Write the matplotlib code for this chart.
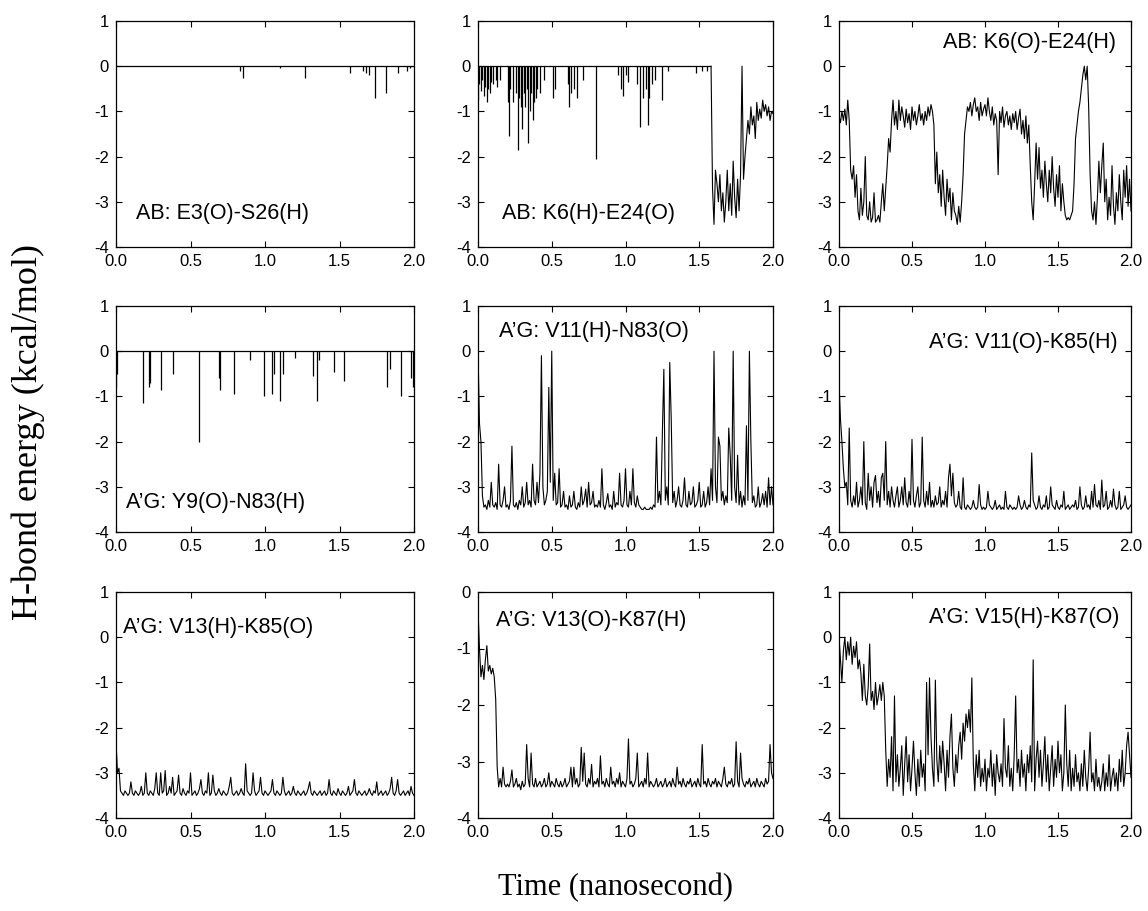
import numpy as np
import matplotlib
matplotlib.use('Agg')
import matplotlib.pyplot as plt

plt.rcParams['font.family'] = ['Liberation Sans', 'DejaVu Sans']
plt.rcParams['axes.unicode_minus'] = False

# common axis settings
time_ticks = [0.0, 0.5, 1.0, 1.5, 2.0]
time_range = [0.0, 2.0]

# ---- AB: E3(O)-S26(H)  (rare short breaks of a zero baseline)
e3o_s26h_t = [0.83, 0.85, 1.10, 1.27, 1.57, 1.66, 1.68, 1.70, 1.74, 1.81, 1.89, 1.95, 1.97]
e3o_s26h_e = [-0.10, -0.25, -0.05, -0.25, -0.15, -0.10, -0.15, -0.20, -0.70, -0.60, -0.15, -0.10, -0.05]

# ---- AB: K6(H)-E24(O)  (spikes until 1.58 ns, then a formed bond)
k6h_e24o_t = [0.00, 0.01, 0.02, 0.03, 0.04, 0.05, 0.06, 0.07, 0.08, 0.09, 0.10,
              0.12, 0.13, 0.15, 0.20, 0.21, 0.22, 0.24, 0.26, 0.27, 0.28, 0.29,
              0.30, 0.31, 0.32, 0.33, 0.34, 0.35, 0.36, 0.37, 0.38, 0.39, 0.40,
              0.42, 0.45, 0.51, 0.52, 0.61, 0.62, 0.63, 0.65, 0.67, 0.71, 0.80,
              0.95, 0.97, 0.98, 1.00, 1.02, 1.08, 1.10, 1.12, 1.14, 1.15, 1.16,
              1.18, 1.20, 1.25, 1.29, 1.48, 1.52, 1.55]
k6h_e24o_e = [-0.75, -0.4, -0.55, -0.3, -0.65, -0.45, -0.8, -0.5, -0.6, -0.35, -0.4,
              -0.3, -0.45, -0.3, -0.8, -1.55, -0.5, -0.8, -0.6, -1.85, -0.7, -0.9,
              -1.4, -0.6, -0.9, -0.5, -1.7, -1.0, -0.6, -1.2, -0.8, -0.7, -0.5,
              -0.6, -0.3, -0.7, -0.5, -0.4, -0.9, -0.6, -0.5, -0.7, -0.3, -2.05,
              -0.2, -0.5, -0.65, -0.2, -0.35, -0.4, -1.35, -0.7, -0.5, -1.3, -0.7,
              -0.4, -0.3, -0.75, -0.1, -0.15, -0.1, -0.1]
k6h_e24o_break = 1.58
k6h_e24o_tail = [0.0, -2.7, -3.5, -2.3, -2.6, -3.0, -2.4, -3.2, -2.8, -3.45,
                 -3.0, -2.3, -3.2, -2.6, -3.3, -2.1, -2.9, -3.35, -2.5, -3.2,
                 -2.4, 0.0, -2.5, -2.0, -1.6, -1.2, -1.5, -0.9, -1.3, -1.1,
                 -1.6, -0.8, -1.2, -0.95, -1.15, -0.75, -1.0, -0.85, -1.1, -0.9,
                 -1.2, -1.0, -1.05]

# ---- AB: K6(O)-E24(H)  (0.01 ns sampling)
k6o_e24h = [
    -1.1, -1.25, -1.0, -1.2, -0.95, -1.3, -0.75, -1.2, -2.3, -2.5, -2.2, -2.9, -2.4, -3.2, -3.4, -2.7, -3.3, -3.0, -2.0, -3.3,
    -3.4, -3.0, -3.45, -3.35, -2.8, -3.45, -3.4, -3.3, -3.45, -3.0, -2.6, -3.2, -2.7, -2.2, -1.6, -1.9, -1.2, -0.75, -1.3, -1.0,
    -1.4, -0.75, -1.2, -0.9, -1.1, -1.35, -0.95, -1.25, -1.05, -1.4, -0.9, -1.2, -1.0, -1.3, -1.1, -0.85, -1.2, -1.05, -1.3, -1.0,
    -1.2, -0.9, -1.1, -0.85, -1.0, -1.3, -2.6, -1.9, -2.8, -2.4, -3.1, -2.3, -2.9, -3.3, -2.5, -3.0, -2.7, -3.4, -2.8, -3.2,
    -3.3, -3.5, -3.1, -3.45, -3.0, -2.4, -1.5, -1.2, -0.9, -1.0, -0.8, -1.1, -0.85, -0.7, -1.0, -0.9, -1.2, -0.8, -1.1, -0.95,
    -0.85, -1.1, -0.7, -1.0, -1.2, -0.9, -1.3, -1.05, -1.2, -2.4, -1.0, -1.25, -0.9, -1.35, -1.1, -1.0, -1.3, -1.1, -1.4, -1.05,
    -1.25, -1.0, -1.4, -1.15, -0.95, -1.5, -1.2, -1.6, -1.1, -1.7, -1.3, -2.2, -3.0, -3.4, -2.6, -1.7, -2.5, -1.8, -2.7, -2.3,
    -2.9, -2.1, -2.6, -3.0, -2.3, -2.8, -2.0, -2.7, -3.1, -2.4, -2.9, -2.2, -3.2, -2.6, -3.0, -3.3, -3.4, -3.35, -3.4, -3.3,
    -3.2, -2.6, -1.6, -1.3, -1.0, -0.8, -0.5, -0.2, 0.0, -0.3, 0.0, -0.9, -2.4, -3.2, -3.4, -3.0, -3.5, -2.9, -2.1, -2.8,
    -2.2, -1.7, -3.0, -2.5, -3.4, -2.9, -3.3, -2.2, -3.1, -3.5, -2.8, -3.2, -2.4, -3.0, -3.4, -2.3, -2.9, -2.2, -3.1, -2.5,
    -3.2]

# ---- A'G: Y9(O)-N83(H)
y9o_n83h_t = [0.00, 0.01, 0.18, 0.22, 0.23, 0.30, 0.38, 0.56, 0.69, 0.70,
              0.79, 0.90, 0.99, 1.05, 1.06, 1.10, 1.12, 1.20, 1.32, 1.35,
              1.36, 1.46, 1.53, 1.82, 1.84, 1.91, 1.98, 1.99]
y9o_n83h_e = [-0.8, -0.5, -1.15, -0.8, -0.7, -0.85, -0.5, -2.0, -0.6, -0.85,
              -0.95, -0.2, -1.0, -0.95, -0.5, -1.1, -0.5, -0.15, -0.55, -1.1,
              -0.2, -0.45, -0.65, -0.8, -0.4, -1.0, -0.6, -0.8]

# ---- A'G: V11(H)-N83(O)
v11h_n83o = [
    0.0, -1.6, -2.0, -3.2, -3.45, -3.4, -3.5, -3.3, -3.45, -2.9, -3.4, -3.45, -3.35, -3.5, -2.5, -3.4, -3.45, -3.3, -3.0, -3.45,
    -3.4, -3.5, -3.3, -2.1, -3.4, -3.45, -3.35, -3.5, -3.3, -3.4, -3.0, -3.45, -3.35, -2.9, -3.4, -3.3, -3.45, -2.5, -3.3, -3.4,
    -2.9, -3.35, -2.7, -0.1, -3.0, -3.4, -3.3, -3.1, -0.8, -2.9, 0.0, -3.3, -2.7, -3.4, -3.35, -2.6, -3.45, -3.4, -3.1, -3.45,
    -3.4, -3.5, -3.2, -3.45, -3.4, -3.1, -3.45, -3.5, -3.35, -3.45, -3.0, -3.4, -3.3, -3.05, -3.45, -2.9, -3.4, -3.35, -3.1, -3.45,
    -3.4, -3.45, -3.3, -3.45, -2.6, -3.4, -3.5, -3.35, -3.15, -3.45, -3.4, -3.5, -3.1, -3.45, -3.35, -3.4, -2.7, -3.4, -3.45, -3.3,
    -2.6, -3.4, -3.45, -3.1, -3.4, -2.6, -3.35, -3.45, -3.2, -3.4, -3.45, -3.5, -3.5, -3.45, -3.5, -3.5, -3.5, -3.45, -3.5, -3.4,
    -3.45, -1.9, -3.35, -3.1, -3.4, -1.8, -0.4, -3.3, -3.0, -3.4, -0.25, -1.5, -3.35, -3.1, -3.45, -3.3, -3.0, -3.4, -3.45, -3.3,
    -2.8, -3.4, -3.45, -3.1, -3.4, -3.35, -3.0, -3.45, -3.4, -3.3, -2.9, -3.45, -3.4, -3.1, -3.45, -3.35, -3.0, -3.4, -2.6, -3.3,
    0.0, -3.0, -3.35, -1.9, -2.1, -3.3, -3.1, -3.4, -3.2, -3.35, -1.7, -2.3, -3.3, 0.0, -3.0, -3.35, -2.3, -3.4, -3.1, -3.45,
    -3.2, -3.4, -1.65, -3.3, 0.0, -2.0, -3.35, -3.2, -3.45, -3.4, -3.0, -3.45, -3.35, -3.15, -3.4, -3.1, -3.45, -2.8, -3.4, -3.0,
    -3.4]

# ---- A'G: V11(O)-K85(H)
v11o_k85h = [
    -0.7, -1.5, -2.0, -2.6, -3.0, -2.9, -3.4, -1.7, -3.3, -3.45, -3.2, -3.4, -2.9, -3.45, -3.3, -3.0, -3.4, -2.0, -3.35, -3.5,
    -2.7, -3.3, -3.0, -3.45, -2.9, -2.75, -3.35, -3.1, -3.45, -2.8, -2.7, -3.3, -2.0, -3.4, -3.1, -3.45, -3.0, -3.3, -3.45, -3.2,
    -3.0, -3.45, -3.3, -3.0, -3.4, -2.8, -3.35, -3.45, -3.1, -3.4, -1.95, -3.3, -3.45, -3.2, -3.0, -3.45, -3.35, -1.9, -3.3, -3.45,
    -3.1, -3.4, -2.9, -3.45, -3.3, -3.45, -3.2, -3.4, -3.35, -3.0, -3.45, -3.3, -3.4, -3.1, -3.45, -2.8, -2.5, -3.2, -2.7, -3.35,
    -3.45, -3.4, -3.1, -3.45, -3.5, -2.8, -3.45, -3.5, -3.4, -3.45, -3.5, -3.45, -3.3, -3.45, -3.5, -3.45, -2.95, -3.4, -3.5, -3.45,
    -3.5, -3.45, -3.1, -3.4, -3.45, -3.5, -3.45, -3.3, -3.5, -3.45, -3.4, -3.5, -3.45, -3.5, -3.1, -3.45, -3.5, -3.4, -3.45, -3.5,
    -3.45, -3.5, -3.45, -3.2, -3.4, -3.5, -3.45, -3.3, -3.45, -3.5, -3.4, -3.45, -2.25, -3.3, -3.4, -3.5, -3.45, -3.2, -3.45, -3.5,
    -3.4, -3.45, -3.2, -3.5, -3.45, -3.0, -3.4, -3.45, -3.5, -3.3, -3.45, -3.5, -3.4, -3.45, -3.1, -3.5, -3.45, -3.4, -3.5, -3.45,
    -3.4, -3.45, -3.3, -3.5, -3.45, -3.0, -3.4, -3.5, -3.45, -3.2, -3.45, -3.4, -3.5, -3.1, -3.45, -2.95, -3.4, -3.45, -3.3, -3.5,
    -2.85, -3.45, -3.4, -3.1, -3.5, -3.45, -3.3, -3.45, -3.05, -3.4, -3.5, -3.45, -3.1, -3.5, -3.45, -3.4, -3.2, -3.45, -3.5, -3.45,
    -3.4]

# ---- A'G: V13(H)-K85(O)
v13h_k85o = [
    -2.3, -3.0, -2.9, -3.4, -3.45, -3.5, -3.4, -3.45, -3.5, -3.45, -3.2, -3.45, -3.5, -3.4, -3.45, -3.5, -3.45, -3.3, -3.5, -3.45,
    -3.0, -3.45, -3.5, -3.4, -3.45, -3.5, -3.35, -3.0, -3.45, -3.5, -3.0, -3.45, -3.4, -2.95, -3.5, -3.45, -3.3, -3.45, -3.1, -3.5,
    -3.45, -3.4, -3.05, -3.45, -3.5, -3.35, -3.45, -3.5, -3.4, -3.45, -3.0, -3.5, -3.45, -3.4, -3.5, -3.45, -3.35, -3.15, -3.45, -3.5,
    -3.4, -3.45, -3.0, -3.5, -3.45, -3.05, -3.4, -3.5, -3.45, -3.35, -3.45, -3.5, -3.4, -3.45, -3.5, -3.45, -3.3, -3.1, -3.45, -3.5,
    -3.45, -3.4, -3.5, -3.45, -3.35, -3.45, -3.5, -2.8, -3.4, -3.45, -3.5, -3.45, -3.0, -3.4, -3.5, -3.45, -3.4, -3.1, -3.45, -3.5,
    -3.4, -3.45, -3.5, -3.45, -3.4, -3.15, -3.45, -3.5, -3.4, -3.45, -3.5, -3.45, -3.1, -3.4, -3.5, -3.45, -3.4, -3.5, -3.45, -3.3,
    -3.45, -3.5, -3.4, -3.45, -3.5, -3.45, -3.4, -3.5, -3.45, -3.35, -3.2, -3.45, -3.5, -3.4, -3.45, -3.5, -3.45, -3.4, -3.5, -3.45,
    -3.4, -3.5, -3.45, -3.15, -3.45, -3.5, -3.4, -3.45, -3.5, -3.35, -3.45, -3.5, -3.4, -3.45, -3.5, -3.45, -3.3, -3.5, -3.45, -3.4,
    -3.15, -3.45, -3.5, -3.4, -3.45, -3.5, -3.45, -3.4, -3.5, -3.45, -3.35, -3.45, -3.5, -3.4, -3.45, -3.2, -3.5, -3.45, -3.4, -3.5,
    -3.45, -3.4, -3.5, -3.45, -3.35, -3.1, -3.45, -3.5, -3.4, -3.15, -3.45, -3.5, -3.45, -3.4, -3.5, -3.45, -3.4, -3.5, -3.3, -3.45,
    -3.5]

# ---- A'G: V13(O)-K87(H)
v13o_k87h = [
    -0.3, -1.0, -1.5, -1.3, -1.55, -1.2, -0.95, -1.4, -1.3, -1.45, -1.35, -1.5, -1.9, -3.1, -3.45, -3.3, -3.45, -3.1, -3.4, -3.45,
    -3.4, -3.45, -3.35, -3.15, -3.45, -3.4, -3.3, -3.45, -3.4, -3.5, -3.35, -3.45, -3.4, -2.7, -3.3, -3.45, -2.85, -3.4, -3.45, -3.3,
    -3.45, -3.4, -3.35, -3.45, -3.4, -3.3, -3.45, -3.4, -3.2, -3.45, -3.35, -3.4, -3.45, -3.3, -3.4, -3.45, -3.35, -3.45, -3.4, -3.3,
    -3.45, -3.4, -3.35, -3.1, -3.45, -3.1, -3.4, -3.3, -3.45, -3.4, -2.75, -3.35, -2.85, -3.4, -3.45, -3.3, -3.4, -3.05, -3.45, -3.35,
    -3.4, -3.3, -3.45, -2.9, -3.4, -3.35, -3.45, -3.3, -3.4, -3.45, -3.1, -3.4, -3.35, -3.45, -3.3, -3.4, -3.2, -3.45, -3.35, -3.4,
    -3.45, -3.3, -2.6, -3.4, -3.35, -3.45, -3.4, -3.3, -2.85, -3.45, -3.4, -3.35, -3.45, -3.3, -3.4, -2.85, -3.45, -3.35, -3.4, -3.45,
    -3.4, -3.3, -3.45, -3.4, -3.35, -3.45, -3.4, -3.3, -3.45, -3.4, -3.35, -3.45, -3.3, -3.4, -3.45, -3.1, -3.4, -3.35, -3.45, -3.3,
    -3.4, -3.45, -3.35, -3.4, -3.3, -3.45, -3.4, -3.35, -3.45, -3.3, -3.4, -3.45, -2.7, -3.4, -3.35, -3.45, -3.3, -3.4, -3.45, -3.35,
    -3.4, -3.3, -3.45, -3.35, -3.4, -3.45, -3.3, -3.1, -3.4, -3.45, -3.35, -3.4, -3.3, -3.45, -3.4, -2.65, -3.35, -3.45, -2.85, -3.3,
    -3.4, -3.45, -3.35, -3.4, -3.3, -3.45, -3.4, -3.35, -3.45, -3.3, -3.4, -3.45, -3.35, -3.4, -3.45, -3.3, -3.4, -3.35, -2.7, -3.2,
    -3.3]

# ---- A'G: V15(H)-K87(O)
v15h_k87o = [
    0.0, -0.5, -1.0, -0.3, 0.0, -0.5, -0.1, -0.4, 0.0, -0.6, -0.2, -0.45, -0.1, -0.7, -0.5, -0.8, -1.4, -0.6, -1.3, -1.5,
    -1.1, -0.15, -1.4, -1.2, -1.6, -1.0, -1.5, -1.3, -1.05, -1.4, -1.0, -1.3, -2.5, -3.3, -2.7, -3.1, -2.2, -3.4, -1.3, -3.2,
    -2.6, -3.3, -2.9, -2.4, -3.5, -2.8, -2.2, -3.2, -2.6, -3.4, -2.9, -2.3, -3.0, -3.5, -2.7, -3.3, -2.5, -3.1, -2.8, -3.4,
    -1.0, -2.6, -0.9, -2.2, -2.9, -3.3, -0.95, -2.7, -3.2, -2.4, -3.0, -2.3, -2.8, -3.4, -2.5, -3.1, -2.2, -1.7, -2.9, -3.3,
    -2.6, -3.0, -2.4, -2.1, -2.7, -1.9, -2.3, -1.7, -2.0, -1.6, -2.1, -0.9, -2.8, -3.4, -2.6, -3.1, -2.5, -3.3, -2.9, -3.2,
    -2.7, -3.4, -2.9, -3.1, -2.5, -3.3, -2.8, -3.5, -2.6, -3.0, -3.2, -2.8, -3.3, -1.8, -2.9, -3.1, -2.4, -3.3, -2.9, -3.4,
    -2.6, -1.3, -3.0, -2.7, -3.3, -2.5, -3.1, -2.8, -3.4, -2.6, -3.0, -2.4, -3.2, -0.5, -3.4, -2.7, -2.3, -3.1, -2.5, -3.3,
    -2.8, -2.2, -3.2, -2.6, -3.4, -2.9, -2.4, -3.3, -2.7, -3.1, -2.3, -3.0, -2.6, -3.4, -3.0, -1.5, -2.8, -3.3, -2.5, -3.4,
    -2.9, -3.3, -2.6, -3.2, -3.0, -3.4, -2.8, -3.3, -2.5, -3.1, -3.4, -2.9, -2.1, -3.2, -3.0, -3.4, -2.7, -3.3, -3.1, -3.4,
    -3.2, -2.8, -3.4, -3.0, -3.3, -2.6, -3.4, -3.1, -2.9, -3.3, -3.0, -3.4, -2.7, -3.2, -2.5, -3.3, -3.0, -2.4, -2.1, -2.6,
    -3.1]

W, H = 1148, 911
col_left = [116, 478, 839]
col_width = [298, 295, 292]
row_top = [21, 306, 592]
panel_h = 226


def make_axes(fig, row, col):
    rect = [col_left[col] / W, 1 - (row_top[row] + panel_h) / H,
            col_width[col] / W, panel_h / H]
    ax = fig.add_axes(rect)
    ax.set_xlim(*time_range)
    ax.set_xticks(time_ticks)
    ax.set_xticklabels([f'{t:.1f}' for t in time_ticks])
    ax.tick_params(direction='in', length=4, width=0.8, labelsize=12,
                   top=True, right=True, pad=5)
    for sp in ax.spines.values():
        sp.set_linewidth(0.9)
    return ax


def set_energy_range(ax, low, high):
    ax.set_ylim(low, high)
    ticks = list(range(low, high + 1))
    ax.set_yticks(ticks)
    ax.set_yticklabels([str(v) for v in ticks])


def draw_series(ax, values, start=0.0, end=2.0):
    t = np.linspace(start, end, len(values))
    ax.plot(t, values, color='black', lw=0.8)


def draw_spikes(ax, times, energies, end=2.0):
    ax.hlines(0, time_range[0], end, color='black', lw=0.9)
    ax.vlines(times, energies, 0, color='black', lw=0.9)


fig = plt.figure(figsize=(W / 100, H / 100), dpi=100)
label_kw = dict(fontsize=15.5, va='center')

# row 1
ax = make_axes(fig, 0, 0)
set_energy_range(ax, -4, 1)
draw_spikes(ax, e3o_s26h_t, e3o_s26h_e)
ax.text(0.067, 0.15, 'AB: E3(O)-S26(H)', transform=ax.transAxes, ha='left', **label_kw)

ax = make_axes(fig, 0, 1)
set_energy_range(ax, -4, 1)
draw_spikes(ax, k6h_e24o_t, k6h_e24o_e, end=k6h_e24o_break)
draw_series(ax, k6h_e24o_tail, start=k6h_e24o_break)
ax.text(0.08, 0.15, 'AB: K6(H)-E24(O)', transform=ax.transAxes, ha='left', **label_kw)

ax = make_axes(fig, 0, 2)
set_energy_range(ax, -4, 1)
draw_series(ax, k6o_e24h)
ax.text(0.95, 0.905, 'AB: K6(O)-E24(H)', transform=ax.transAxes, ha='right', **label_kw)

# row 2
ax = make_axes(fig, 1, 0)
set_energy_range(ax, -4, 1)
draw_spikes(ax, y9o_n83h_t, y9o_n83h_e)
ax.text(0.035, 0.13, "A\u2019G: Y9(O)-N83(H)", transform=ax.transAxes, ha='left', **label_kw)

ax = make_axes(fig, 1, 1)
set_energy_range(ax, -4, 1)
draw_series(ax, v11h_n83o)
ax.text(0.07, 0.885, "A\u2019G: V11(H)-N83(O)", transform=ax.transAxes, ha='left', **label_kw)

ax = make_axes(fig, 1, 2)
set_energy_range(ax, -4, 1)
draw_series(ax, v11o_k85h)
ax.text(0.955, 0.84, "A\u2019G: V11(O)-K85(H)", transform=ax.transAxes, ha='right', **label_kw)

# row 3
ax = make_axes(fig, 2, 0)
set_energy_range(ax, -4, 1)
draw_series(ax, v13h_k85o)
ax.text(0.025, 0.845, "A\u2019G: V13(H)-K85(O)", transform=ax.transAxes, ha='left', **label_kw)

ax = make_axes(fig, 2, 1)
set_energy_range(ax, -4, 0)
draw_series(ax, v13o_k87h)
ax.text(0.06, 0.875, "A\u2019G: V13(O)-K87(H)", transform=ax.transAxes, ha='left', **label_kw)

ax = make_axes(fig, 2, 2)
set_energy_range(ax, -4, 1)
draw_series(ax, v15h_k87o)
ax.text(0.96, 0.885, "A\u2019G: V15(H)-K87(O)", transform=ax.transAxes, ha='right', **label_kw)

# shared axis titles
fig.text(28 / W, 1 - 432 / H, 'H-bond energy (kcal/mol)', rotation=90,
         ha='center', va='center', fontsize=26, family='Liberation Serif')
fig.text(615 / W, 1 - 888 / H, 'Time (nanosecond)',
         ha='center', va='center', fontsize=22, family='Liberation Serif')

fig.savefig('out.png', dpi=100)
